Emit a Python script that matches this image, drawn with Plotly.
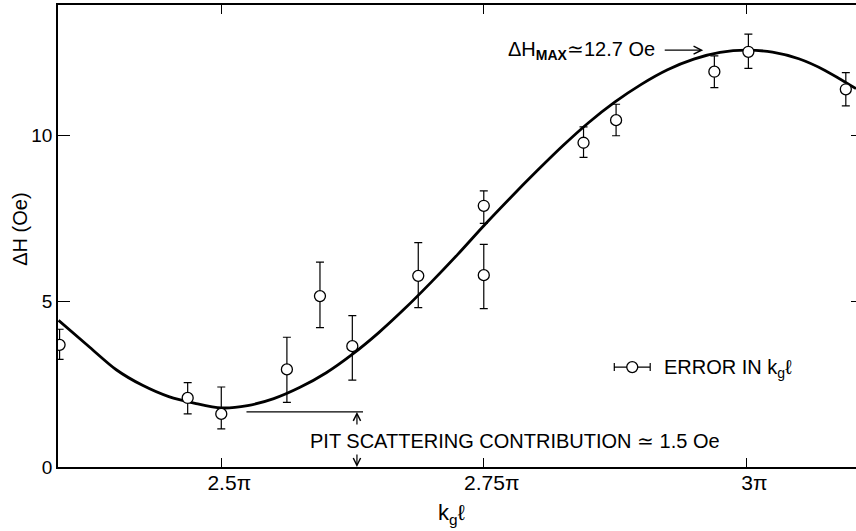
import plotly.graph_objects as go

# ---- data (x in units of pi, y in Oe) ----
curve_x = [2.345, 2.375, 2.40, 2.425, 2.45, 2.475, 2.50, 2.525, 2.55, 2.575, 2.60,
           2.625, 2.65, 2.675, 2.70, 2.725, 2.75, 2.775, 2.80, 2.825, 2.85, 2.875,
           2.90, 2.925, 2.95, 2.975, 3.00, 3.025, 3.05, 3.075, 3.1045]
curve_y = [4.42, 3.60, 2.93, 2.46, 2.12, 1.92, 1.78, 1.85, 2.06, 2.40, 2.84,
           3.40, 4.05, 4.78, 5.57, 6.40, 7.27, 8.10, 8.90, 9.67, 10.38, 11.00,
           11.53, 11.97, 12.29, 12.49, 12.56, 12.50, 12.30, 11.95, 11.40]

pts_x = [2.346, 2.468, 2.500, 2.5625, 2.594, 2.6248, 2.6876, 2.750, 2.750,
         2.845, 2.876, 2.9696, 3.002, 3.0948]
pts_y = [3.68, 2.08, 1.60, 2.94, 5.15, 3.64, 5.76, 7.87, 5.78,
         9.77, 10.45, 11.91, 12.51, 11.38]
err_plus = [0.47, 0.46, 0.81, 0.97, 1.02, 0.92, 1.00, 0.45, 0.93,
            0.48, 0.48, 0.48, 0.53, 0.50]
err_minus = [0.44, 0.48, 0.45, 0.99, 0.95, 1.02, 0.96, 0.53, 1.01,
             0.44, 0.47, 0.48, 0.50, 0.50]

legend_x = [2.8914]
legend_y = [3.01]
legend_xerr = [0.0171]

pit_line_x = [2.524, 2.635]
pit_line_y = [1.66, 1.66]
pit_arrow_x = 2.6292
pit_level = 1.66

max_arrow_x = 2.959
max_level = 12.56

x_ticks = [2.5, 2.75, 3.0]
x_ticktext = ["2.5π", "2.75π", "3π"]
y_ticks = [0, 5, 10]
y_ticktext = ["0", "5", "10"]

FONT = "Liberation Sans, Arial, sans-serif"

fig = go.Figure()

fig.add_trace(go.Scatter(
    x=curve_x, y=curve_y, mode="lines",
    line=dict(color="black", width=2.8, shape="spline", smoothing=0.8),
    hoverinfo="skip", showlegend=False))

fig.add_trace(go.Scatter(
    x=pit_line_x, y=pit_line_y, mode="lines", yaxis="y2",
    line=dict(color="black", width=1.2),
    hoverinfo="skip", showlegend=False))

fig.add_trace(go.Scatter(
    x=pts_x, y=pts_y, mode="markers",
    marker=dict(symbol="circle", size=11, color="white",
                line=dict(color="black", width=1.3)),
    error_y=dict(type="data", symmetric=False, array=err_plus, arrayminus=err_minus,
                 color="black", thickness=1.2, width=4),
    showlegend=False))

fig.add_trace(go.Scatter(
    x=legend_x, y=legend_y, mode="markers",
    marker=dict(symbol="circle", size=11, color="white",
                line=dict(color="black", width=1.3)),
    error_x=dict(type="data", array=legend_xerr, color="black", thickness=1.2, width=4),
    showlegend=False))

font = dict(family=FONT, size=20, color="black")

annotations = [
    dict(x=2.9152, y=max_level, xref="x", yref="y", xanchor="right", yanchor="middle",
         text="ΔH<sub><b>MAX</b></sub>≃12.7 Oe", showarrow=False, font=font),
    dict(x=max_arrow_x, y=max_level, xref="x", yref="y", ax=-40, ay=0,
         showarrow=True, arrowhead=5, arrowsize=1.2, arrowwidth=1.3, arrowcolor="black", text=""),
    dict(x=2.92, y=2.98, xref="x", yref="y", xanchor="left", yanchor="middle",
         text="ERROR IN k<sub>g</sub>ℓ", showarrow=False, font=font),
    dict(x=2.5829, y=0.78, xref="x", yref="y", xanchor="left", yanchor="middle",
         text="PIT SCATTERING CONTRIBUTION ≃ 1.5 Oe", showarrow=False, font=font),
    dict(x=pit_arrow_x, y=pit_level, xref="x", yref="y", ax=0, ay=14,
         showarrow=True, arrowhead=5, arrowsize=1.2, arrowwidth=1.2, arrowcolor="black", text=""),
    dict(x=pit_arrow_x, y=0, xref="x", yref="y", ax=0, ay=-14,
         showarrow=True, arrowhead=5, arrowsize=1.2, arrowwidth=1.2, arrowcolor="black", text=""),
    dict(x=2.72, y=-0.102, xref="x", yref="paper", xanchor="center", yanchor="middle",
         text="k<sub>g</sub>ℓ", showarrow=False, font=dict(family=FONT, size=22, color="black")),
    dict(x=-0.048, y=0.515, xref="paper", yref="paper", xanchor="center", yanchor="middle",
         text="ΔH (Oe)", textangle=-90, showarrow=False,
         font=dict(family=FONT, size=20, color="black")),
]

fig.update_layout(
    width=856, height=531,
    margin=dict(l=58, r=0, t=5, b=64),
    paper_bgcolor="white", plot_bgcolor="white",
    font=dict(family=FONT, size=20, color="black"),
    showlegend=False,
    xaxis=dict(range=[2.3445, 3.1045], tickvals=x_ticks, ticktext=x_ticktext,
               ticks="inside", ticklen=9, tickwidth=1.3, tickcolor="black",
               showline=True, linecolor="black", linewidth=1.5, mirror="ticks",
               showgrid=False, zeroline=False, ticklabelshift=8, ticklabelstandoff=-4,
               tickfont=dict(family=FONT, size=21, color="black")),
    yaxis=dict(range=[0, 13.92], tickvals=y_ticks, ticktext=y_ticktext,
               ticks="inside", ticklen=12, tickwidth=1.3, tickcolor="black",
               showline=True, linecolor="black", linewidth=1.5, mirror=False,
               showgrid=False, zeroline=False,
               tickfont=dict(family=FONT, size=19, color="black")),
    yaxis2=dict(range=[0, 13.92], overlaying="y", side="right",
                tickvals=[5, 10], ticks="inside", ticklen=5, tickwidth=1.3, tickcolor="black",
                showticklabels=False, showline=False, showgrid=False, zeroline=False),
    annotations=annotations,
)

fig.write_html("out.html", config={"displayModeBar": False},
               post_script="document.body.style.margin='0';")
